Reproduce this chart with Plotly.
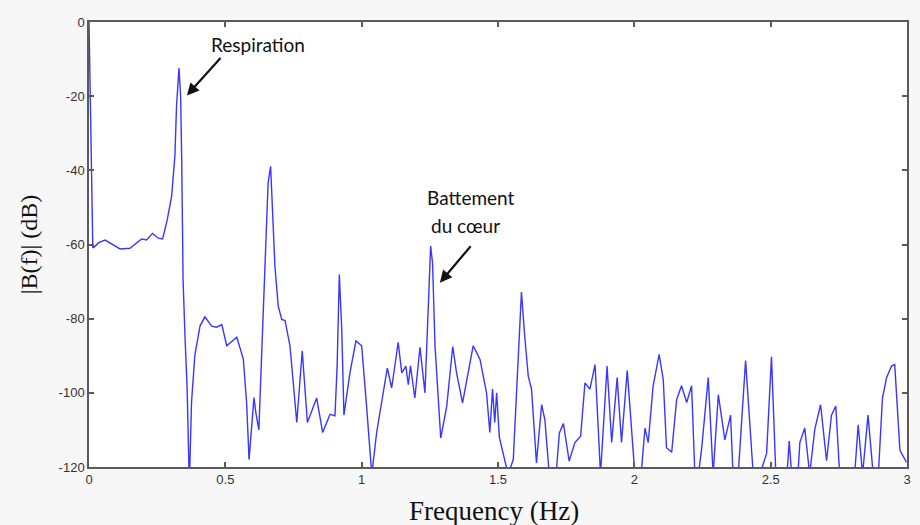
import plotly.graph_objects as go

freq = [0.000, 0.002, 0.004, 0.008, 0.014, 0.022, 0.035, 0.059, 0.085, 0.114,
        0.150, 0.175, 0.193, 0.211, 0.233, 0.254, 0.270, 0.287, 0.303, 0.315,
        0.321, 0.330, 0.336, 0.340, 0.345, 0.352, 0.360, 0.368, 0.376, 0.388,
        0.407, 0.425, 0.450, 0.468, 0.487, 0.505, 0.542, 0.566, 0.578, 0.587,
        0.597, 0.605, 0.612, 0.623, 0.633, 0.645, 0.652, 0.657, 0.666, 0.673,
        0.682, 0.694, 0.707, 0.719, 0.737, 0.762, 0.782, 0.801, 0.835, 0.857,
        0.884, 0.902, 0.910, 0.918, 0.927, 0.935, 0.957, 0.979, 1.000, 1.018,
        1.037, 1.055, 1.079, 1.094, 1.110, 1.134, 1.147, 1.162, 1.171, 1.179,
        1.195, 1.214, 1.232, 1.240, 1.253, 1.260, 1.269, 1.290, 1.312, 1.334,
        1.348, 1.370, 1.409, 1.434, 1.458, 1.470, 1.480, 1.488, 1.495, 1.505,
        1.537, 1.556, 1.574, 1.586, 1.599, 1.611, 1.623, 1.641, 1.660, 1.672,
        1.688, 1.713, 1.725, 1.740, 1.761, 1.782, 1.803, 1.819, 1.837, 1.856,
        1.876, 1.900, 1.917, 1.937, 1.953, 1.974, 2.002, 2.025, 2.039, 2.051,
        2.069, 2.091, 2.106, 2.118, 2.137, 2.155, 2.173, 2.192, 2.210, 2.222,
        2.235, 2.247, 2.271, 2.289, 2.308, 2.332, 2.353, 2.362, 2.381, 2.408,
        2.436, 2.460, 2.485, 2.503, 2.519, 2.560, 2.568, 2.577, 2.600, 2.607,
        2.625, 2.643, 2.662, 2.683, 2.705, 2.723, 2.739, 2.753, 2.808, 2.821,
        2.837, 2.857, 2.876, 2.895, 2.910, 2.925, 2.943, 2.955, 2.974, 2.998]

mag_db = [0, -8, -23, -38, -60.9, -60.5, -59.5, -58.8, -60, -61.2,
          -61, -59.5, -58.5, -58.8, -57, -58.3, -58.5, -53.3, -47, -36.2,
          -22.7, -12.4, -20, -37, -69.5, -84.7, -99, -125, -102.6, -90,
          -82, -79.5, -82, -82.3, -81.6, -87.3, -85, -90.9, -102.6, -118,
          -108, -101.3, -105.4, -110, -90, -67.5, -56, -43.3, -38.9, -51.4,
          -66, -76.6, -80.2, -80.5, -87.3, -108, -88.7, -108, -101.4, -110.7,
          -105.8, -106.2, -92.8, -68.1, -82.9, -106, -94.6, -86, -87.3, -103.6,
          -122, -110.7, -100, -93.3, -98.7, -86.4, -94.6, -92.8, -97.8, -92.7,
          -101.4, -87.7, -100, -85.6, -60.4, -65, -87.3, -112.2, -103.6, -87.5,
          -94.6, -102.7, -87.3, -91, -100, -110.7, -99, -108, -100, -112,
          -122, -118, -89, -72.8, -85.6, -95.5, -99, -118.9, -103.2, -107.3,
          -122, -122, -110.8, -108.3, -118.4, -113.4, -111.7, -97.3, -99, -92.4,
          -122, -92.8, -113.4, -95.9, -113.4, -94, -122, -122, -109.5, -113.4,
          -98.1, -89.6, -96.4, -114.8, -116, -101.9, -98.1, -102.6, -98.1, -122,
          -122, -115, -95.9, -122, -100.5, -112.7, -106, -122, -122, -91.3,
          -122, -122, -116.4, -90.3, -122, -122, -113, -122, -122, -113.4,
          -109.5, -122, -109.8, -103.2, -118.3, -106, -103.6, -122, -122, -108.6,
          -122, -106, -122, -122, -101.4, -95.9, -92.8, -92.4, -115.5, -118.7]

x_ticks = [0, 0.5, 1, 1.5, 2, 2.5, 3]
x_tick_text = ["0", "0.5", "1", "1.5", "2", "2.5", "3"]
y_ticks = [0, -20, -40, -60, -80, -100, -120]
y_tick_text = ["0", "-20", "-40", "-60", "-80", "-100", "-120"]

fig = go.Figure()
fig.add_trace(go.Scatter(x=freq, y=mag_db, mode="lines",
                         line=dict(color="rgb(55,55,255)", width=1.4),
                         showlegend=False, hoverinfo="skip"))

axis_common = dict(showgrid=False, zeroline=False, showline=True, mirror="ticks",
                   linecolor="#5a5a5a", linewidth=1.5, ticks="inside", ticklen=5,
                   tickcolor="#5a5a5a", tickwidth=1.5,
                   tickfont=dict(family="Liberation Sans", size=13, color="#333"))

fig.update_xaxes(range=[0, 3], tickvals=x_ticks, ticktext=x_tick_text,
                 automargin=False, **axis_common)
fig.update_yaxes(range=[-120, 0], tickvals=y_ticks, ticktext=y_tick_text,
                 title=dict(text="|B(f)| (dB)", standoff=14,
                            font=dict(family="Liberation Serif", size=24, color="#111")),
                 **axis_common)

fig.add_annotation(xref="paper", yref="paper", x=0.495, y=0, yanchor="top",
                   yshift=-27, text="Frequency (Hz)", showarrow=False,
                   font=dict(family="Liberation Serif", size=27, color="#111"))

ann_font = dict(family="Lato", size=19, color="#111")
fig.add_annotation(x=0.359, y=-19.8, ax=35, ay=-39, text="", showarrow=True,
                   arrowhead=2, arrowsize=1.1, arrowwidth=2.2, arrowcolor="#111")
fig.add_annotation(x=0.619, y=-6, text="Respiration", showarrow=False, font=ann_font)
fig.add_annotation(x=1.401, y=-47.3, text="Battement", showarrow=False, font=ann_font)
fig.add_annotation(x=1.379, y=-54.9, text="du cœur", showarrow=False, font=ann_font)
fig.add_annotation(x=1.287, y=-70.3, ax=32, ay=-38, text="", showarrow=True,
                   arrowhead=2, arrowsize=1.1, arrowwidth=2.2, arrowcolor="#111")

fig.update_layout(width=920, height=525,
                  margin=dict(l=89, r=13, t=22, b=58),
                  paper_bgcolor="#f7f7f7", plot_bgcolor="white")

fig.write_html("out.html")
